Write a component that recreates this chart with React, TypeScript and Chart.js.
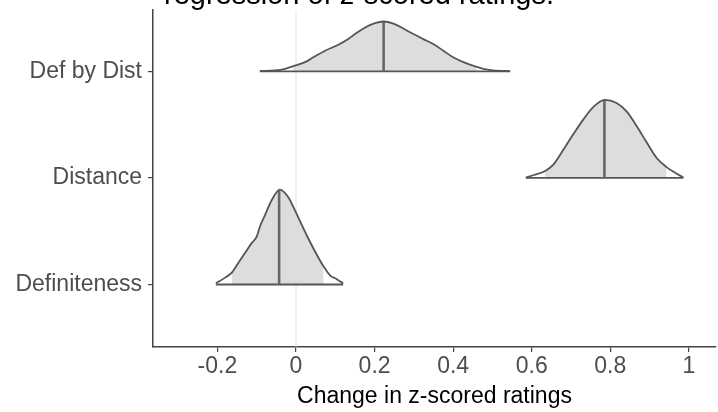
import React, { useEffect, useRef } from 'react';
import { Chart, registerables } from 'chart.js';

Chart.register(...registerables);

// ---------- data ----------
const TITLE = 'regression of z-scored ratings.';
const X_AXIS_TITLE = 'Change in z-scored ratings';

// y positions 1, 2, 3 (bottom to top)
const CATEGORIES = ['Definiteness', 'Distance', 'Def by Dist'];
const CATEGORY_POS = [1, 2, 3];

const X_TICKS = [-0.2, 0, 0.2, 0.4, 0.6, 0.8, 1];
const X_TICK_LABELS = ['-0.2', '0', '0.2', '0.4', '0.6', '0.8', '1'];
const X_MIN = -0.364;
const X_MAX = 1.069;
const Y_MIN = 0.413;
const Y_MAX = 3.577;
const REF_LINE_X = 0;

// Definiteness density (x, scaled height)
const DEFINITENESS_X = [-0.204, -0.181, -0.164, -0.147, -0.13, -0.113, -0.1, -0.092, -0.079, -0.062, -0.041, -0.02, -0.003, 0.015, 0.031, 0.053, 0.07, 0.087, 0.104, 0.12];
const DEFINITENESS_DENSITY = [0.012, 0.062, 0.109, 0.202, 0.295, 0.388, 0.449, 0.542, 0.651, 0.791, 0.89, 0.821, 0.698, 0.558, 0.434, 0.279, 0.17, 0.084, 0.05, 0.009];

// Distance density
const DISTANCE_X = [0.585, 0.608, 0.634, 0.655, 0.68, 0.706, 0.731, 0.757, 0.786, 0.816, 0.842, 0.867, 0.892, 0.918, 0.943, 0.964, 0.986];
const DISTANCE_DENSITY = [0.004, 0.03, 0.066, 0.126, 0.262, 0.412, 0.548, 0.668, 0.734, 0.704, 0.623, 0.487, 0.337, 0.187, 0.102, 0.051, 0.004];

// Def by Dist density
const DEFBYDIST_X = [-0.092, -0.053, -0.028, -0.007, 0.023, 0.044, 0.074, 0.108, 0.133, 0.15, 0.176, 0.201, 0.222, 0.248, 0.273, 0.299, 0.324, 0.349, 0.375, 0.4, 0.426, 0.46, 0.477, 0.502, 0.545];
const DEFBYDIST_DENSITY = [0.003, 0.009, 0.025, 0.051, 0.087, 0.133, 0.195, 0.251, 0.304, 0.351, 0.412, 0.453, 0.469, 0.449, 0.403, 0.351, 0.304, 0.258, 0.195, 0.133, 0.087, 0.042, 0.025, 0.009, 0.003];

const MEDIANS = [-0.043, 0.785, 0.223];
const MEDIAN_HEIGHTS = [0.88, 0.734, 0.469];
const INNER_LOW = [-0.164, 0.634, -0.007];
const INNER_HIGH = [0.07, 0.943, 0.46];

const FONT = '"Liberation Sans", Arial, Helvetica, sans-serif';

const titlePlugin = {
  id: 'cutTitle',
  afterDraw(chart: any) {
    const ctx = chart.ctx;
    ctx.save();
    ctx.font = `29px ${FONT}`;
    ctx.fillStyle = '#000000';
    ctx.textAlign = 'center';
    ctx.textBaseline = 'alphabetic';
    ctx.fillText(TITLE, chart.width / 2, 4);
    ctx.restore();
  },
};

export default function App() {
  const ref = useRef<HTMLCanvasElement>(null);

  useEffect(() => {
    if (!ref.current) return;
    const xsList = [DEFINITENESS_X, DISTANCE_X, DEFBYDIST_X];
    const hsList = [DEFINITENESS_DENSITY, DISTANCE_DENSITY, DEFBYDIST_DENSITY];

    const datasets: any[] = [];
    datasets.push({
      data: [
        { x: REF_LINE_X, y: Y_MIN },
        { x: REF_LINE_X, y: Y_MAX },
      ],
      borderColor: '#e2e2e2',
      borderWidth: 1,
      fill: false,
      order: 100,
    });

    CATEGORIES.forEach((_, i) => {
      const pos = CATEGORY_POS[i];
      const xs = xsList[i];
      const hs = hsList[i];
      const pts = xs.map((x, j) => ({ x, y: pos + hs[j] }));
      const inner = pts.filter((p) => p.x >= INNER_LOW[i] - 1e-9 && p.x <= INNER_HIGH[i] + 1e-9);
      datasets.push({
        data: inner,
        borderWidth: 0,
        borderColor: 'rgba(0,0,0,0)',
        backgroundColor: '#dddddd',
        fill: { value: pos },
        cubicInterpolationMode: 'monotone',
        tension: 0.4,
        order: 50,
      });
      datasets.push({
        data: [
          { x: xs[0], y: pos },
          { x: xs[xs.length - 1], y: pos },
        ],
        borderColor: '#555555',
        borderWidth: 1.8,
        fill: false,
        order: 40,
      });
      datasets.push({
        data: [
          { x: MEDIANS[i], y: pos },
          { x: MEDIANS[i], y: pos + MEDIAN_HEIGHTS[i] },
        ],
        borderColor: '#676767',
        borderWidth: 2.6,
        fill: false,
        order: 30,
      });
      datasets.push({
        data: pts,
        borderColor: '#555555',
        borderWidth: 1.8,
        fill: false,
        cubicInterpolationMode: 'monotone',
        tension: 0.4,
        order: 20,
      });
    });

    const chart = new Chart(ref.current, {
      type: 'line',
      data: { datasets },
      options: {
        animation: false,
        responsive: false,
        maintainAspectRatio: false,
        layout: { padding: { top: 10, right: 2, left: 0, bottom: 0 } },
        elements: { point: { radius: 0, hoverRadius: 0 } },
        plugins: {
          legend: { display: false },
          tooltip: { enabled: false },
          title: { display: false },
        },
        scales: {
          x: {
            type: 'linear',
            min: X_MIN,
            max: X_MAX,
            afterBuildTicks: (s: any) => {
              s.ticks = X_TICKS.map((v) => ({ value: v }));
            },
            afterFit: (s: any) => {
              s.height = 65;
              s.paddingLeft = 0;
              s.paddingRight = 0;
            },
            ticks: {
              callback: (_v: any, idx: number) => X_TICK_LABELS[idx],
              color: '#4d4d4d',
              font: { family: FONT, size: 23 },
              padding: 1,
              maxRotation: 0,
              autoSkip: false,
            },
            grid: {
              display: true,
              drawOnChartArea: false,
              drawTicks: true,
              tickLength: 5,
              color: '#444444',
              lineWidth: 1.2,
            },
            border: { display: true, color: '#444444', width: 1.5 },
            title: {
              display: true,
              text: X_AXIS_TITLE,
              color: '#000000',
              font: { family: FONT, size: 23 },
              padding: { top: 0, bottom: 2 },
            },
          },
          y: {
            type: 'linear',
            min: Y_MIN,
            max: Y_MAX,
            afterBuildTicks: (s: any) => {
              s.ticks = CATEGORY_POS.map((v) => ({ value: v }));
            },
            afterFit: (s: any) => {
              s.width = 153;
              s.paddingTop = 0;
              s.paddingBottom = 0;
            },
            ticks: {
              callback: (_v: any, idx: number) => CATEGORIES[idx],
              color: '#4d4d4d',
              font: { family: FONT, size: 23 },
              padding: 6,
              autoSkip: false,
            },
            grid: {
              display: true,
              drawOnChartArea: false,
              drawTicks: true,
              tickLength: 5,
              color: '#444444',
              lineWidth: 1.2,
            },
            border: { display: true, color: '#444444', width: 1.5 },
          },
        },
      },
      plugins: [titlePlugin],
    });

    return () => chart.destroy();
  }, []);

  return (
    <div style={{ position: 'absolute', left: 0, top: 0, width: 718, height: 412, background: '#ffffff' }}>
      <canvas ref={ref} width={718} height={412} style={{ display: 'block', width: 718, height: 412 }} />
    </div>
  );
}
